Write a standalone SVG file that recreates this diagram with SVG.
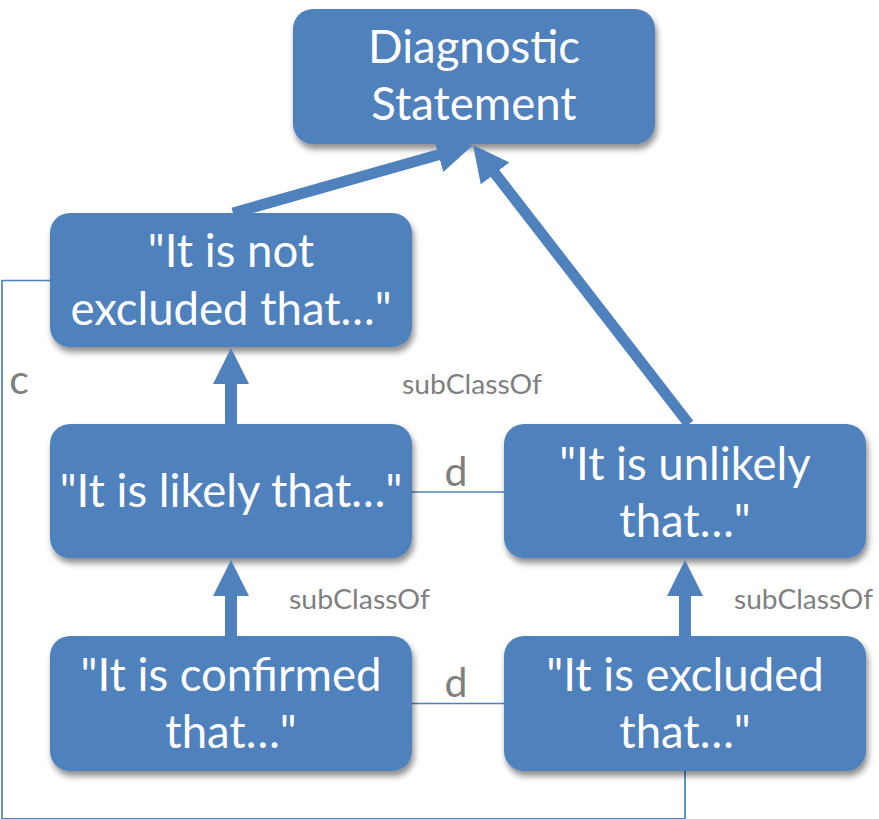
<svg xmlns="http://www.w3.org/2000/svg" width="879" height="819" viewBox="0 0 879 819">
  <style>
    .box { fill: #4F81BD; filter: url(#shadow); }
    .t { font-family: Lato, "Open Sans", "Liberation Sans", sans-serif; font-size: 45.5px; fill: #FFFFFF; text-anchor: middle; }
    .lbl { font-family: Lato, "Open Sans", "Liberation Sans", sans-serif; fill: #7F7F7F; }
    .sub { font-size: 26px; }
    .ld { font-size: 41px; text-anchor: middle; }
    .thick { stroke: #4F81BD; fill: none; marker-end: url(#head); }
    .thin { stroke: #4F81BD; stroke-width: 1.7; fill: none; }
  </style>
  <defs>
    <filter id="shadow" x="-10%" y="-10%" width="130%" height="140%">
      <feDropShadow dx="2" dy="5" stdDeviation="3" flood-color="#000000" flood-opacity="0.45"/>
    </filter>
    <marker id="head" viewBox="0 0 36 36" refX="4" refY="18" markerWidth="36" markerHeight="36" markerUnits="userSpaceOnUse" orient="auto">
      <path d="M0,0 L36,18 L0,36 Z" fill="#4F81BD"/>
    </marker>
  </defs>
  <rect width="879" height="819" fill="#FFFFFF"/>

  <g id="connectors">
    <polyline class="thin" points="51,280.5 2,280.5 2,818.8 685,818.8 685,771"/>
    <line class="thin" x1="412" y1="492" x2="504" y2="492"/>
    <line class="thin" x1="412" y1="703.5" x2="504" y2="703.5"/>
  </g>

  <g id="node-diagnostic">
    <rect class="box" x="293" y="9" width="362" height="135" rx="20"/>
    <text class="t" x="474" y="63">Diagnostic</text>
    <text class="t" x="474" y="120">Statement</text>
  </g>
  <g id="node-not-excluded">
    <rect class="box" x="50" y="213" width="362" height="134" rx="20"/>
    <text class="t" x="231" y="267">"It is not</text>
    <text class="t" x="231" y="325">excluded that…"</text>
  </g>
  <g id="node-likely">
    <rect class="box" x="50" y="424" width="362" height="134" rx="20"/>
    <text class="t" x="231" y="507">"It is likely that…"</text>
  </g>
  <g id="node-unlikely">
    <rect class="box" x="504" y="424" width="362" height="134" rx="20"/>
    <text class="t" x="685" y="480">"It is unlikely</text>
    <text class="t" x="685" y="537">that…"</text>
  </g>
  <g id="node-confirmed">
    <rect class="box" x="50" y="636" width="362" height="135" rx="20"/>
    <text class="t" x="231" y="691">"It is confirmed</text>
    <text class="t" x="231" y="748">that…"</text>
  </g>
  <g id="node-excluded">
    <rect class="box" x="504" y="636" width="362" height="135" rx="20"/>
    <text class="t" x="685" y="691">"It is excluded</text>
    <text class="t" x="685" y="748">that…"</text>
  </g>

  <g id="arrows">
    <line class="thick" stroke-width="11" x1="233" y1="213" x2="442.2" y2="153.7"/>
    <line class="thick" stroke-width="11" x1="689" y1="424" x2="492.6" y2="170.3"/>
    <line class="thick" stroke-width="12" x1="231" y1="424" x2="231" y2="380"/>
    <line class="thick" stroke-width="12" x1="231" y1="636" x2="231" y2="592"/>
    <line class="thick" stroke-width="12" x1="685" y1="636" x2="685" y2="592"/>
  </g>

  <g id="labels">
    <text class="lbl sub" x="402" y="394" textLength="140" lengthAdjust="spacingAndGlyphs">subClassOf</text>
    <text class="lbl sub" x="289" y="609" textLength="141" lengthAdjust="spacingAndGlyphs">subClassOf</text>
    <text class="lbl sub" x="734" y="609" textLength="139" lengthAdjust="spacingAndGlyphs">subClassOf</text>
    <text class="lbl ld" x="456" y="486">d</text>
    <text class="lbl ld" x="456" y="697">d</text>
    <text class="lbl ld" x="19" y="394" font-size="45">c</text>
  </g>
</svg>
